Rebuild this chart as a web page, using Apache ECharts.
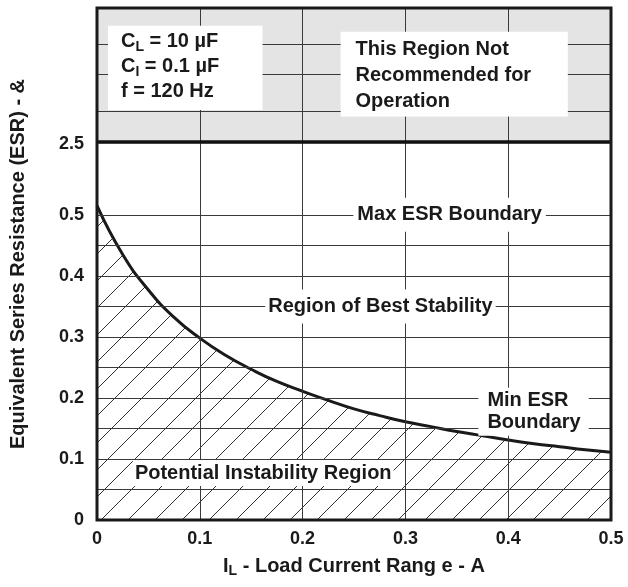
<!DOCTYPE html>
<html>
<head>
<meta charset="utf-8">
<script src="https://cdn.jsdelivr.net/npm/echarts@6/dist/echarts.min.js"></script>
<style>
  html, body { margin: 0; padding: 0; background: #fff; }
  #chart { width: 628px; height: 587px; }
</style>
</head>
<body>
<div id="chart"></div>
<script>
// load current (A) vs min ESR boundary
const loadCurrent = [0, 0.025, 0.05, 0.075, 0.1, 0.125, 0.15, 0.175, 0.2, 0.225, 0.25,
  0.275, 0.3, 0.325, 0.35, 0.375, 0.4, 0.425, 0.45, 0.475, 0.5]
const minEsr = [0.515, 0.435, 0.377, 0.332, 0.298, 0.27, 0.247, 0.227, 0.211, 0.196, 0.182,
  0.171, 0.161, 0.153, 0.145, 0.138, 0.131, 0.125, 0.12, 0.115, 0.111]

// x axis
const xTicks = [0, 0.1, 0.2, 0.3, 0.4, 0.5]

// y axis is broken above 0.5 (2.5 sits just above it), so values are on a display scale
const yTickValues = [0, 0.1, 0.2, 0.3, 0.4, 0.5, 0.616]
const yTickLabels = ['0', '0.1', '0.2', '0.3', '0.4', '0.5', '2.5']
const yGridLower = [0.05, 0.1, 0.15, 0.2, 0.25, 0.3, 0.35, 0.4, 0.45, 0.5]
const yGridUpper = [0.672, 0.728, 0.783]
const yBreak = 0.616
const yTop = 0.839

// texts
const paramText = ['C{sub|L} = 10 µF', 'C{sub|I} = 0.1 µF', 'f = 120 Hz']
const regionText = ['This Region Not', 'Recommended for', 'Operation']

const FONT = '"Liberation Sans", Arial, Helvetica, sans-serif'
const INK = '#1a1a1a'
const GRID = '#3a3a3a'

// diagonal hatch for the instability region
const makeHatch = () => {
  const s = 27
  const c = document.createElement('canvas')
  c.width = s
  c.height = s
  const ctx = c.getContext('2d')
  ctx.strokeStyle = '#333'
  ctx.lineWidth = 1
  for (const k of [-1, 0, 1]) {
    ctx.beginPath()
    ctx.moveTo(k * s, s)
    ctx.lineTo(k * s + s, 0)
    ctx.stroke()
  }
  return c
}

const chart = echarts.init(document.getElementById('chart'))

const subRich = {
  sub: { fontSize: 14, fontWeight: 'bold', fontFamily: FONT, color: INK, verticalAlign: 'bottom', lineHeight: 14 }
}

const option = {
  animation: false,
  grid: { left: 96, right: 17, top: 8, bottom: 67, show: false },
  xAxis: {
    type: 'value',
    min: 0,
    max: 0.5,
    interval: 0.1,
    axisLine: { show: false },
    axisTick: { show: false },
    splitLine: { show: false },
    axisLabel: {
      color: INK, fontSize: 18, fontWeight: 'bold', fontFamily: FONT, margin: 10,
      formatter: v => String(xTicks.find(t => Math.abs(t - v) < 1e-6) ?? v)
    },
    name: 'I{sub|L} - Load Current Rang e - A',
    nameLocation: 'middle',
    nameGap: 35,
    nameTextStyle: {
      color: INK, fontSize: 20, fontWeight: 'bold', fontFamily: FONT, lineHeight: 23,
      rich: subRich
    }
  },
  yAxis: {
    type: 'value',
    min: 0,
    max: yTop,
    axisLine: { show: false },
    axisTick: { show: false },
    splitLine: { show: false },
    axisLabel: {
      customValues: yTickValues,
      color: INK, fontSize: 18, fontWeight: 'bold', fontFamily: FONT, margin: 13,
      formatter: v => {
        const i = yTickValues.findIndex(t => Math.abs(t - v) < 1e-6)
        return i >= 0 ? yTickLabels[i] : ''
      }
    },
    name: 'Equivalent Series Resistance (ESR) - &',
    nameLocation: 'middle',
    nameGap: 69,
    nameTextStyle: { color: INK, fontSize: 20, fontWeight: 'bold', fontFamily: FONT }
  },
  series: [
    {
      type: 'line',
      data: loadCurrent.map((x, i) => [x, minEsr[i]]),
      smooth: true,
      symbol: 'none',
      lineStyle: { color: INK, width: 3 },
      areaStyle: { color: { image: makeHatch(), repeat: 'repeat' }, opacity: 1 },
      z: 3,
      markArea: {
        silent: true,
        itemStyle: { color: '#e4e4e4' },
        data: [[{ yAxis: yBreak }, { yAxis: yTop }]]
      },
      markLine: {
        silent: true,
        symbol: ['none', 'none'],
        label: { show: false },
        lineStyle: { color: GRID, width: 1, type: 'solid' },
        data: [
          ...yGridLower.map(v => ({ yAxis: v })),
          ...yGridUpper.map(v => ({ yAxis: v })),
          ...xTicks.slice(1, -1).map(v => ({ xAxis: v })),
          { yAxis: yBreak, lineStyle: { color: '#111', width: 3.5 } }
        ]
      }
    }
  ]
}

chart.setOption(option)

// annotations, placed in data coordinates
const px = (x, y) => chart.convertToPixel({ gridIndex: 0 }, [x, y])
const textStyle = (extra) => Object.assign({
  fill: INK, fontSize: 20, fontWeight: 'bold', fontFamily: FONT, rich: subRich
}, extra)

const [gx0, gy0] = px(0, yTop)
const [gx1, gy1] = px(0.5, 0)
const [b1x0, b1y0] = px(0.0107, 0.81)
const [b1x1, b1y1] = px(0.161, 0.672)
const [b2x0, b2y0] = px(0.237, 0.80)
const [b2x1, b2y1] = px(0.458, 0.661)

const labelAt = (text, x, y, align, padding) => {
  const [lx, ly] = px(x, y)
  return {
    type: 'text', z: 100,
    style: textStyle({
      text, x: lx, y: ly, align, textAlign: align, verticalAlign: 'middle', textVerticalAlign: 'middle',
      backgroundColor: '#fff', padding, lineHeight: 22
    })
  }
}

const [p1x, p1y] = px(0.0233, 0.7426)
const [p2x, p2y] = px(0.2515, 0.7287)

chart.setOption({
  graphic: [
    { type: 'rect', z: 50, shape: { x: b1x0, y: b1y0, width: b1x1 - b1x0, height: b1y1 - b1y0 }, style: { fill: '#fff' } },
    { type: 'rect', z: 50, shape: { x: b2x0, y: b2y0, width: b2x1 - b2x0, height: b2y1 - b2y0 }, style: { fill: '#fff' } },
    {
      type: 'text', z: 100,
      style: textStyle({ text: paramText.join('\n'), x: p1x, y: p1y, align: 'left', textAlign: 'left', verticalAlign: 'middle', textVerticalAlign: 'middle', lineHeight: 25 })
    },
    {
      type: 'text', z: 100,
      style: textStyle({ text: regionText.join('\n'), x: p2x, y: p2y, align: 'left', textAlign: 'left', verticalAlign: 'middle', textVerticalAlign: 'middle', lineHeight: 26 })
    },
    labelAt('Max ESR Boundary', 0.343, 0.5, 'center', [6, 4]),
    labelAt('Region of Best Stability', 0.2757, 0.35, 'center', [6, 3]),
    labelAt('Min ESR\nBoundary', 0.371, 0.1775, 'left', [2, 8, 2, 9]),
    labelAt('Potential Instability Region', 0.1617, 0.077, 'center', [2, 2]),
    // plot frame
    { type: 'rect', z: 120, shape: { x: gx0, y: gy0, width: gx1 - gx0, height: gy1 - gy0 }, style: { fill: null, stroke: INK, lineWidth: 3 } }
  ]
})

window.addEventListener('resize', () => chart.resize())
</script>
</body>
</html>
